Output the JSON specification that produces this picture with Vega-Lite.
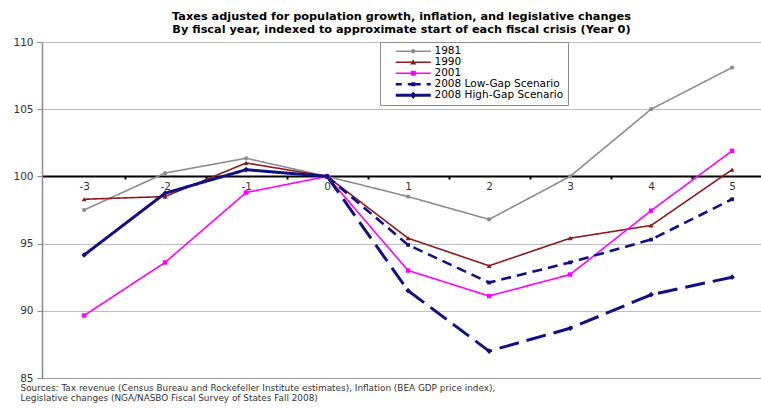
{
  "$schema": "https://vega.github.io/schema/vega-lite/v6.json",
  "width": 719,
  "height": 336,
  "autosize": {"type": "none"},
  "padding": {"left": 42, "top": 42, "right": 0, "bottom": 30},
  "background": "white",
  "title": {
    "text": ["Taxes adjusted for population growth, inflation, and legislative changes", "By fiscal year, indexed to approximate start of each fiscal crisis (Year 0)"],
    "font": "DejaVu Sans", "fontSize": 11.3, "fontWeight": "bold", "color": "#000",
    "anchor": "middle", "offset": 1.5, "lineHeight": 13.5
  },
  "config": {"view": {"stroke": null}},
  "data": {"values": [
    {"series": "1981", "year": -3, "value": 97.5},
    {"series": "1981", "year": -2, "value": 100.25},
    {"series": "1981", "year": -1, "value": 101.35},
    {"series": "1981", "year": 0, "value": 100},
    {"series": "1981", "year": 1, "value": 98.5},
    {"series": "1981", "year": 2, "value": 96.8},
    {"series": "1981", "year": 3, "value": 100.0},
    {"series": "1981", "year": 4, "value": 105.0},
    {"series": "1981", "year": 5, "value": 108.1},
    {"series": "1990", "year": -3, "value": 98.3},
    {"series": "1990", "year": -2, "value": 98.5},
    {"series": "1990", "year": -1, "value": 101.0},
    {"series": "1990", "year": 0, "value": 100},
    {"series": "1990", "year": 1, "value": 95.4},
    {"series": "1990", "year": 2, "value": 93.35},
    {"series": "1990", "year": 3, "value": 95.4},
    {"series": "1990", "year": 4, "value": 96.35},
    {"series": "1990", "year": 5, "value": 100.5},
    {"series": "2001", "year": -3, "value": 89.65},
    {"series": "2001", "year": -2, "value": 93.6},
    {"series": "2001", "year": -1, "value": 98.8},
    {"series": "2001", "year": 0, "value": 100},
    {"series": "2001", "year": 1, "value": 93.0},
    {"series": "2001", "year": 2, "value": 91.1},
    {"series": "2001", "year": 3, "value": 92.7},
    {"series": "2001", "year": 4, "value": 97.45},
    {"series": "2001", "year": 5, "value": 101.9},
    {"series": "2008 Low-Gap Scenario", "year": 0, "value": 100},
    {"series": "2008 Low-Gap Scenario", "year": 1, "value": 94.9},
    {"series": "2008 Low-Gap Scenario", "year": 2, "value": 92.1},
    {"series": "2008 Low-Gap Scenario", "year": 3, "value": 93.6},
    {"series": "2008 Low-Gap Scenario", "year": 4, "value": 95.3},
    {"series": "2008 Low-Gap Scenario", "year": 5, "value": 98.3},
    {"series": "2008 High-Gap Scenario", "year": -3, "value": 94.15},
    {"series": "2008 High-Gap Scenario", "year": -2, "value": 98.75},
    {"series": "2008 High-Gap Scenario", "year": -1, "value": 100.5},
    {"series": "2008 High-Gap Scenario", "year": 0, "value": 100},
    {"series": "2008 High-Gap Scenario", "year": 1, "value": 91.5},
    {"series": "2008 High-Gap Scenario", "year": 2, "value": 87.0},
    {"series": "2008 High-Gap Scenario", "year": 3, "value": 88.7},
    {"series": "2008 High-Gap Scenario", "year": 4, "value": 91.2},
    {"series": "2008 High-Gap Scenario", "year": 5, "value": 92.5}
  ]},
  "resolve": {"axis": {"x": "independent"}},
  "layer": [
    {
      "transform": [{"filter": "datum.series !== '2008 High-Gap Scenario' || datum.year <= 0"}],
      "mark": {"type": "line", "strokeCap": "butt", "strokeJoin": "miter"},
      "encoding": {
        "x": {
          "field": "year", "type": "quantitative",
          "scale": {"domain": [-3.52, 5.357], "nice": false, "zero": false},
          "axis": {
            "orient": "bottom", "offset": -202, "values": [-3, -2, -1, 0, 1, 2, 3, 4, 5],
            "labelExpr": "'' + datum.value", "ticks": false, "grid": false,
            "domainColor": "#000000", "domainWidth": 2,
            "labelFont": "DejaVu Sans", "labelFontSize": 10.5, "labelColor": "#333333",
            "labelPadding": 5, "title": null, "zindex": 0
          }
        },
        "y": {
          "field": "value", "type": "quantitative",
          "scale": {"domain": [85, 110], "nice": false, "zero": false},
          "axis": {
            "values": [85, 90, 95, 100, 105, 110], "title": null, "grid": true,
            "gridColor": "#bdbdbd", "gridWidth": 1.2,
            "domainColor": "#8a8a8a", "domainWidth": 1.5,
            "tickColor": "#8a8a8a", "tickSize": 5, "tickWidth": 1,
            "labelFont": "DejaVu Sans", "labelFontSize": 10.5, "labelColor": "#333333", "labelPadding": 4
          }
        },
        "color": {
          "field": "series", "type": "nominal",
          "scale": {
            "domain": ["2008 High-Gap Scenario", "2008 Low-Gap Scenario", "2001", "1990", "1981"],
            "range": ["#101080", "#101080", "#ff00ff", "#8b1a1a", "#8c8c8c"]
          },
          "legend": null
        },
        "strokeDash": {
          "field": "series", "type": "nominal",
          "scale": {
            "domain": ["1981", "1990", "2001", "2008 Low-Gap Scenario", "2008 High-Gap Scenario"],
            "range": [[1, 0], [1, 0], [1, 0], [10, 6], [1, 0]]
          },
          "legend": {
            "orient": "none", "legendX": 338, "legendY": 0, "title": null, "columns": 1,
            "fillColor": "white", "strokeColor": "#8c8c8c", "padding": 4, "cornerRadius": 0,
            "labelFont": "DejaVu Sans", "labelFontSize": 10.5, "labelColor": "#000000",
            "symbolSize": 100, "symbolStrokeWidth": 0, "symbolOffset": 24, "labelOffset": 16, "rowPadding": 0,
            "encode": {
              "symbols": {
                "update": {
                  "shape": {"signal": "datum.value === '1981' ? 'M-5.8,0M-3.5,-0.15H3.5V0.15H-3.5ZM0.44,0A0.44,0.44 0 1 1 -0.44,0A0.44,0.44 0 1 1 0.44,0Z' : datum.value === '1990' ? 'M-5.8,0M-3.5,-0.15H3.5V0.15H-3.5ZM0,-0.6L0.6,0.45L-0.6,0.45Z' : datum.value === '2001' ? 'M-5.8,0M-3.5,-0.15H3.5V0.15H-3.5ZM-0.5,-0.5H0.5V0.5H-0.5Z' : datum.value === '2008 Low-Gap Scenario' ? 'M-5.8,0M-3.5,-0.25H-2.3V0.25H-3.5ZM-1.1,-0.25H1.5V0.25H-1.1ZM2.7,-0.25H3.5V0.25H2.7ZM-0.4,-0.4H0.4V0.4H-0.4Z' : 'M-5.8,0M-3.5,-0.3H3.5V0.3H-3.5ZM0,-0.75L0.65,0L0,0.75L-0.65,0Z'"},
                  "fill": {"scale": "color", "field": "value"},
                  "stroke": {"value": "transparent"},
                  "strokeWidth": {"value": 0},
                  "opacity": {"value": 1}
                }
              }
            }
          }
        },
        "strokeWidth": {
          "field": "series", "type": "nominal",
          "scale": {
            "type": "ordinal",
            "domain": ["2008 High-Gap Scenario", "2008 Low-Gap Scenario", "2001", "1990", "1981"],
            "range": [3, 2.6, 1.6, 1.6, 1.6]
          },
          "legend": null
        }
      }
    },
    {
      "transform": [{"filter": "datum.series === '2008 High-Gap Scenario' && datum.year >= 0"}],
      "mark": {"type": "line", "color": "#101080", "strokeWidth": 3, "strokeDash": [20, 8], "strokeCap": "butt"},
      "encoding": {
        "x": {
          "field": "year", "type": "quantitative",
          "scale": {"domain": [-3.52, 5.357], "nice": false, "zero": false},
          "axis": {
            "orient": "bottom", "offset": -202, "values": [-2.5, -1.5, -0.5, 0.5, 1.5, 2.5, 3.5, 4.5],
            "labels": false, "domain": false, "grid": false, "ticks": true,
            "tickSize": 3, "tickColor": "#000000", "tickWidth": 2, "title": null, "zindex": 0
          }
        },
        "y": {
          "field": "value", "type": "quantitative",
          "axis": {
            "values": [85, 90, 95, 100, 105, 110], "title": null, "grid": true,
            "gridColor": "#bdbdbd", "gridWidth": 1.2,
            "domainColor": "#8a8a8a", "domainWidth": 1.5,
            "tickColor": "#8a8a8a", "tickSize": 5, "tickWidth": 1,
            "labelFont": "DejaVu Sans", "labelFontSize": 10.5, "labelColor": "#333333", "labelPadding": 4
          }
        }
      }
    },
    {
      "mark": {"type": "point", "filled": true, "opacity": 1},
      "encoding": {
        "x": {
          "field": "year", "type": "quantitative",
          "scale": {"domain": [-3.52, 5.357], "nice": false, "zero": false},
          "axis": {
            "orient": "bottom", "offset": 0, "labels": false, "ticks": false, "grid": false,
            "domainColor": "#9a9a9a", "domainWidth": 1.2,
            "title": ["Sources: Tax revenue (Census Bureau and Rockefeller Institute estimates), Inflation (BEA GDP price index),", "Legislative changes (NGA/NASBO Fiscal Survey of States Fall 2008)"],
            "titleFont": "DejaVu Sans", "titleFontSize": 8.9, "titleFontWeight": "normal", "titleColor": "#333333",
            "titleAnchor": "start", "titleAlign": "left", "titleBaseline": "top",
            "titleX": -22, "titleY": 5, "titleLineHeight": 10, "zindex": 0
          }
        },
        "y": {
          "field": "value", "type": "quantitative",
          "axis": {
            "values": [85, 90, 95, 100, 105, 110], "title": null, "grid": true,
            "gridColor": "#bdbdbd", "gridWidth": 1.2,
            "domainColor": "#8a8a8a", "domainWidth": 1.5,
            "tickColor": "#8a8a8a", "tickSize": 5, "tickWidth": 1,
            "labelFont": "DejaVu Sans", "labelFontSize": 10.5, "labelColor": "#333333", "labelPadding": 4
          }
        },
        "color": {"field": "series", "type": "nominal", "legend": null},
        "shape": {
          "field": "series", "type": "nominal",
          "scale": {
            "domain": ["2008 High-Gap Scenario", "2008 Low-Gap Scenario", "2001", "1990", "1981"],
            "range": ["diamond", "square", "square", "triangle-up", "circle"]
          },
          "legend": null
        },
        "size": {
          "field": "series", "type": "nominal",
          "scale": {
            "type": "ordinal",
            "domain": ["2008 High-Gap Scenario", "2008 Low-Gap Scenario", "2001", "1990", "1981"],
            "range": [32, 14, 20, 24, 18]
          },
          "legend": null
        }
      }
    }
  ]
}
